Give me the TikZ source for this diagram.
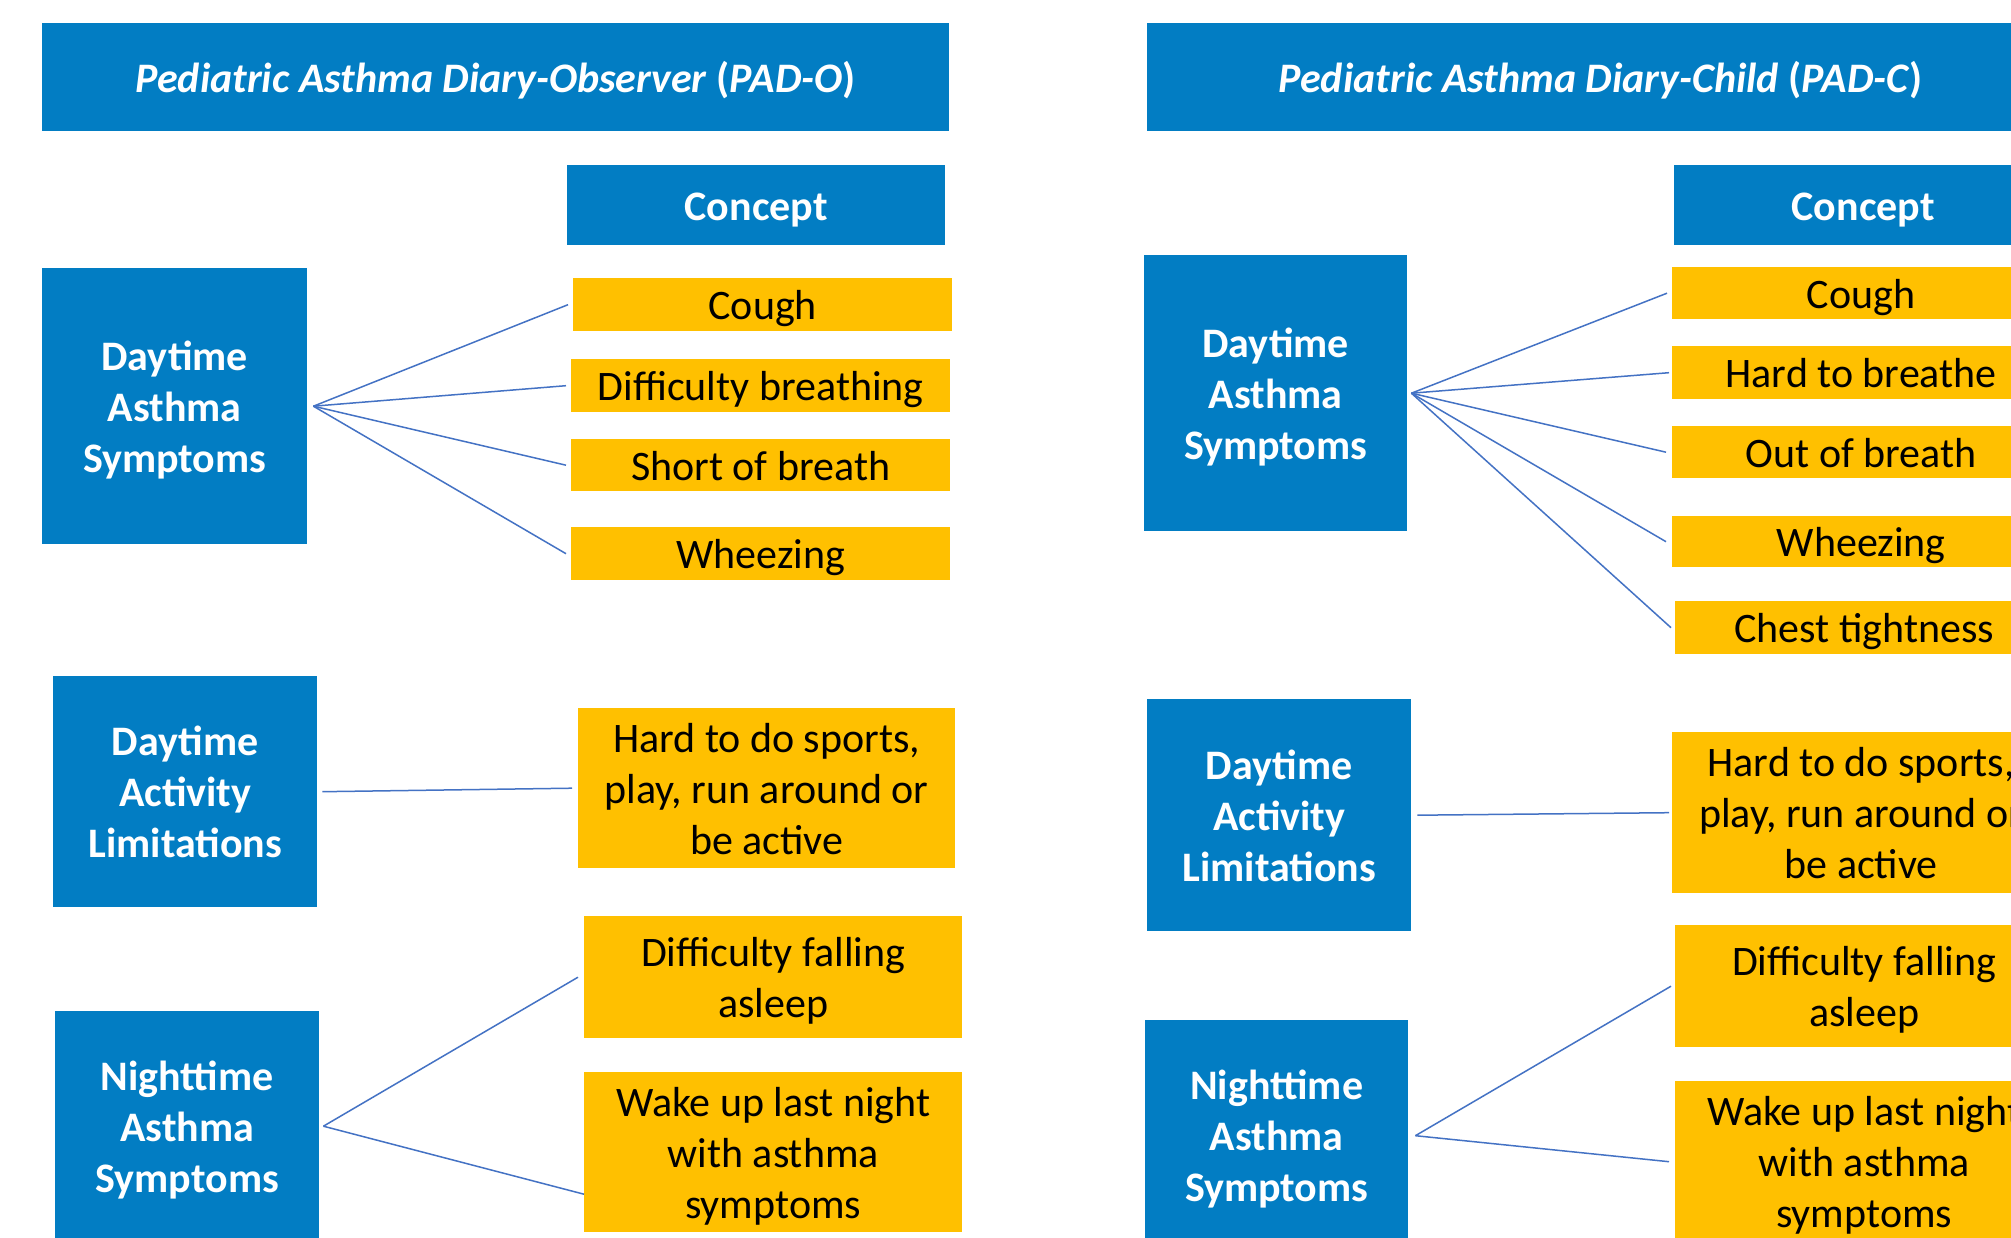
\documentclass[tikz,border=0pt]{standalone}
\usepackage{fontspec}
\setmainfont{Carlito}
\usetikzlibrary{calc}
\definecolor{boxblue}{RGB}{2,125,195}
\definecolor{boxgold}{RGB}{255,192,0}
\definecolor{linkblue}{RGB}{68,114,196}
\newcommand\dntxt[1]{\raisebox{-5pt}[\height][\depth]{\begin{tabular}{@{}c@{}}#1\end{tabular}}}
\begin{document}
\begin{tikzpicture}[x=1pt,y=-1pt,
  base/.style={rectangle, inner sep=0pt, anchor=north west, align=center},
  titlebox/.style={base, fill=boxblue, text=white, font=\fontsize{42}{51}\selectfont\bfseries},
  catbox/.style={base, fill=boxblue, text=white, font=\fontsize{42}{51}\selectfont\bfseries},
  itembox/.style={base, fill=boxgold, text=black, font=\fontsize{42}{51}\selectfont},
  conn/.style={draw=linkblue, line width=1.5pt}]
\useasboundingbox (0,0) rectangle (2011,1238);
\clip (0,0) rectangle (2011,1238);
\fill[white] (0,0) rectangle (2011,1238);

% ---------- Left: PAD-O ----------
\node[titlebox, minimum width=907, minimum height=108] (t1) at (42,23) {\dntxt{\textit{Pediatric Asthma Diary-Observer} (\textit{PAD-O})}};
\node[catbox, minimum width=378, minimum height=80] (h1) at (567,165) {\dntxt{Concept}};
\node[catbox, minimum width=265, minimum height=276] (c1) at (42,268) {\dntxt{Daytime\\Asthma\\Symptoms}};
\node[itembox, minimum width=379, minimum height=53] (i1a) at (573,278) {\dntxt{Cough}};
\node[itembox, minimum width=379, minimum height=53] (i1b) at (571,359) {\dntxt{Difficulty breathing}};
\node[itembox, minimum width=379, minimum height=52] (i1c) at (571,439) {\dntxt{Short of breath}};
\node[itembox, minimum width=379, minimum height=53] (i1d) at (571,527) {\dntxt{Wheezing}};
\node[catbox, minimum width=264, minimum height=231] (c2) at (53,676) {\dntxt{Daytime\\Activity\\Limitations}};
\node[itembox, minimum width=377, minimum height=160] (i2) at (578,708) {\dntxt{Hard to do sports,\\play, run around or\\be active}};
\node[catbox, minimum width=264, minimum height=230] (c3) at (55,1011) {\dntxt{Nighttime\\Asthma\\Symptoms}};
\node[itembox, minimum width=378, minimum height=122] (i3a) at (584,916) {\dntxt{Difficulty falling\\asleep}};
\node[itembox, minimum width=378, minimum height=160] (i3b) at (584,1072) {\dntxt{Wake up last night\\with asthma\\symptoms}};

\draw[conn] ([xshift=6pt]c1.east) -- ([xshift=-5pt]i1a.west);
\draw[conn] ([xshift=6pt]c1.east) -- ([xshift=-5pt]i1b.west);
\draw[conn] ([xshift=6pt]c1.east) -- ([xshift=-5pt]i1c.west);
\draw[conn] ([xshift=6pt]c1.east) -- ([xshift=-5pt]i1d.west);
\draw[conn] ([xshift=5pt]c2.east) -- ([xshift=-6pt]i2.west);
\draw[conn] ([xshift=4pt]c3.east) -- ([xshift=-6pt]i3a.west);
\draw[conn] ([xshift=4pt]c3.east) -- ($(i3b.west)+(0,42)$);

% ---------- Right: PAD-C ----------
\node[titlebox, minimum width=907, minimum height=108] (t2) at (1147,23) {\dntxt{\textit{Pediatric Asthma Diary-Child} (\textit{PAD-C})}};
\node[catbox, minimum width=378, minimum height=80] (h2) at (1674,165) {\dntxt{Concept}};
\node[catbox, minimum width=263, minimum height=276] (d1) at (1144,255) {\dntxt{Daytime\\Asthma\\Symptoms}};
\node[itembox, minimum width=378, minimum height=52] (j1a) at (1672,267) {\dntxt{Cough}};
\node[itembox, minimum width=378, minimum height=53] (j1b) at (1672,346) {\dntxt{Hard to breathe}};
\node[itembox, minimum width=378, minimum height=52] (j1c) at (1672,426) {\dntxt{Out of breath}};
\node[itembox, minimum width=378, minimum height=51] (j1d) at (1672,516) {\dntxt{Wheezing}};
\node[itembox, minimum width=378, minimum height=53] (j1e) at (1675,601) {\dntxt{Chest tightness}};
\node[catbox, minimum width=264, minimum height=232] (d2) at (1147,699) {\dntxt{Daytime\\Activity\\Limitations}};
\node[itembox, minimum width=378, minimum height=161] (j2) at (1672,732) {\dntxt{Hard to do sports,\\play, run around or\\be active}};
\node[catbox, minimum width=263, minimum height=231] (d3) at (1145,1020) {\dntxt{Nighttime\\Asthma\\Symptoms}};
\node[itembox, minimum width=378, minimum height=122] (j3a) at (1675,925) {\dntxt{Difficulty falling\\asleep}};
\node[itembox, minimum width=378, minimum height=161] (j3b) at (1675,1081) {\dntxt{Wake up last night\\with asthma\\symptoms}};

\draw[conn] ([xshift=4pt]d1.east) -- ([xshift=-5pt]j1a.west);
\draw[conn] ([xshift=4pt]d1.east) -- ([xshift=-3pt]j1b.west);
\draw[conn] ([xshift=4pt]d1.east) -- ([xshift=-6pt]j1c.west);
\draw[conn] ([xshift=4pt]d1.east) -- ([xshift=-6pt]j1d.west);
\draw[conn] ([xshift=4pt]d1.east) -- ([xshift=-4pt]j1e.west);
\draw[conn] ([xshift=6pt]d2.east) -- ([xshift=-3pt]j2.west);
\draw[conn] ([xshift=7pt]d3.east) -- ([xshift=-4pt]j3a.west);
\draw[conn] ([xshift=7pt]d3.east) -- ([xshift=-6pt]j3b.west);
\end{tikzpicture}
\end{document}
